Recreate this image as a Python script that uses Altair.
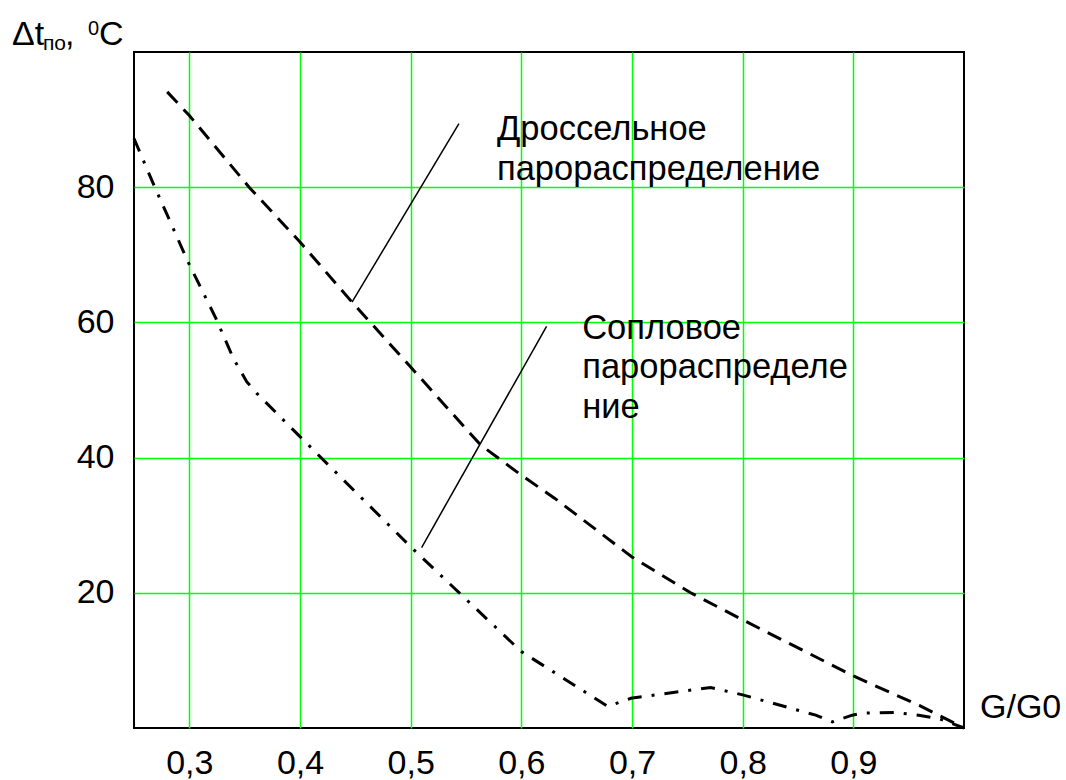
import altair as alt
import pandas as pd

# ---- data ----
# Дроссельное парораспределение (dashed)
dross_x = [0.28, 0.30, 0.354, 0.40, 0.447, 0.50, 0.524, 0.563, 0.60, 0.63,
           0.70, 0.753, 0.80, 0.90, 0.96, 1.00]
dross_y = [94.1, 90.6, 80.0, 71.9, 63.0, 53.4, 49.0, 41.9, 37.4, 34.0,
           25.3, 20.0, 16.0, 7.7, 3.3, 0.0]

# Сопловое парораспределение (dash-dot)
sopl_x = [0.25, 0.268, 0.299, 0.324, 0.340, 0.352, 0.361, 0.40, 0.50, 0.60,
          0.629, 0.678, 0.699, 0.771, 0.80, 0.866, 0.881, 0.899, 0.909, 0.938,
          0.959, 0.977, 1.00]
sopl_y = [87.2, 80.3, 68.9, 60.6, 54.6, 51.2, 49.5, 43.1, 26.8, 11.3,
          8.3, 3.2, 4.4, 6.0, 4.9, 1.9, 0.9, 1.9, 2.2, 2.3,
          1.9, 1.4, 0.0]

x_ticks = [0.3, 0.4, 0.5, 0.6, 0.7, 0.8, 0.9]
y_ticks = [20, 40, 60, 80]

# leader lines (from label to curve)
lead_x1 = [0.5436, 0.6228]
lead_y1 = [89.4, 59.4]
lead_x2 = [0.447, 0.5099]
lead_y2 = [63.0, 26.7]

label_text = ["Дроссельное\nпарораспределение", "Сопловое\nпарораспределе\nние"]
label_x = [0.578, 0.655]
label_y = [87.0, 57.6]

FONT = "Liberation Sans"
FS = 34

dross_df = pd.DataFrame({"x": dross_x, "y": dross_y})
sopl_df = pd.DataFrame({"x": sopl_x, "y": sopl_y})
lead_df = pd.DataFrame({"x": lead_x1, "y": lead_y1, "x2": lead_x2, "y2": lead_y2})
lab_df = pd.DataFrame({"x": label_x, "y": label_y, "t": label_text})

xscale = alt.Scale(domain=[0.25, 1.0], nice=False, zero=False)
yscale = alt.Scale(domain=[0, 100], nice=False, zero=True)

xaxis = alt.Axis(values=x_ticks, grid=True, gridColor="#00ff00", gridWidth=1.5,
                 ticks=False, tickSize=0, domain=False, title=None,
                 labelFont=FONT, labelFontSize=FS, labelColor="black",
                 labelPadding=18, labelFlush=False, labelOverlap=False,
                 labelExpr="replace(format(datum.value, '.1f'), '.', ',')")
yaxis = alt.Axis(values=y_ticks, grid=True, gridColor="#00ff00", gridWidth=1.5,
                 ticks=False, tickSize=0, domain=False, title=None,
                 labelFont=FONT, labelFontSize=FS, labelColor="black",
                 labelPadding=20, labelFlush=False, labelOverlap=False)


def X(f):
    return alt.X(f, type="quantitative", scale=xscale, axis=xaxis)


def Y(f):
    return alt.Y(f, type="quantitative", scale=yscale, axis=yaxis)


dross = alt.Chart(dross_df).mark_line(
    color="black", strokeWidth=3, strokeDash=[15, 9]
).encode(x=X("x"), y=Y("y"), order=alt.Order("x:Q"))

sopl = alt.Chart(sopl_df).mark_line(
    color="black", strokeWidth=3, strokeDash=[14, 10, 3, 10]
).encode(x=X("x"), y=Y("y"), order=alt.Order("x:Q"))

leads = alt.Chart(lead_df).mark_rule(color="black", strokeWidth=1.5).encode(
    x=X("x"), y=Y("y"), x2="x2", y2="y2")

labels = alt.Chart(lab_df).mark_text(
    align="left", baseline="alphabetic", font=FONT, fontSize=34.5,
    color="black", lineBreak="\n", lineHeight=39.7
).encode(x=X("x"), y=Y("y"), text="t:N")

one = alt.Data(values=[{"a": 1}])


def txt(s, px, py, size, align="left"):
    return alt.Chart(one).mark_text(
        align=align, baseline="alphabetic", font=FONT, fontSize=size, color="black"
    ).encode(x=alt.value(px), y=alt.value(py), text=alt.value(s))


title_parts = [
    txt("Δt", -122, -7, FS),
    txt("по", -91, -2, 21),
    txt(",", -69, -7, FS),
    txt("0", -46, -17, 20),
    txt("C", -35, -7, FS),
    txt("G/G0", 846, 666, FS),
]

chart = alt.layer(dross, sopl, leads, labels, *title_parts).properties(
    width=830, height=676,
    autosize=alt.AutoSizeParams(type="none"),
    padding={"left": 134, "top": 52, "right": 102, "bottom": 52},
    background="white",
).configure_view(stroke="black", strokeWidth=2)

chart.save("out.html", embed_options={"renderer": "svg", "actions": False})
